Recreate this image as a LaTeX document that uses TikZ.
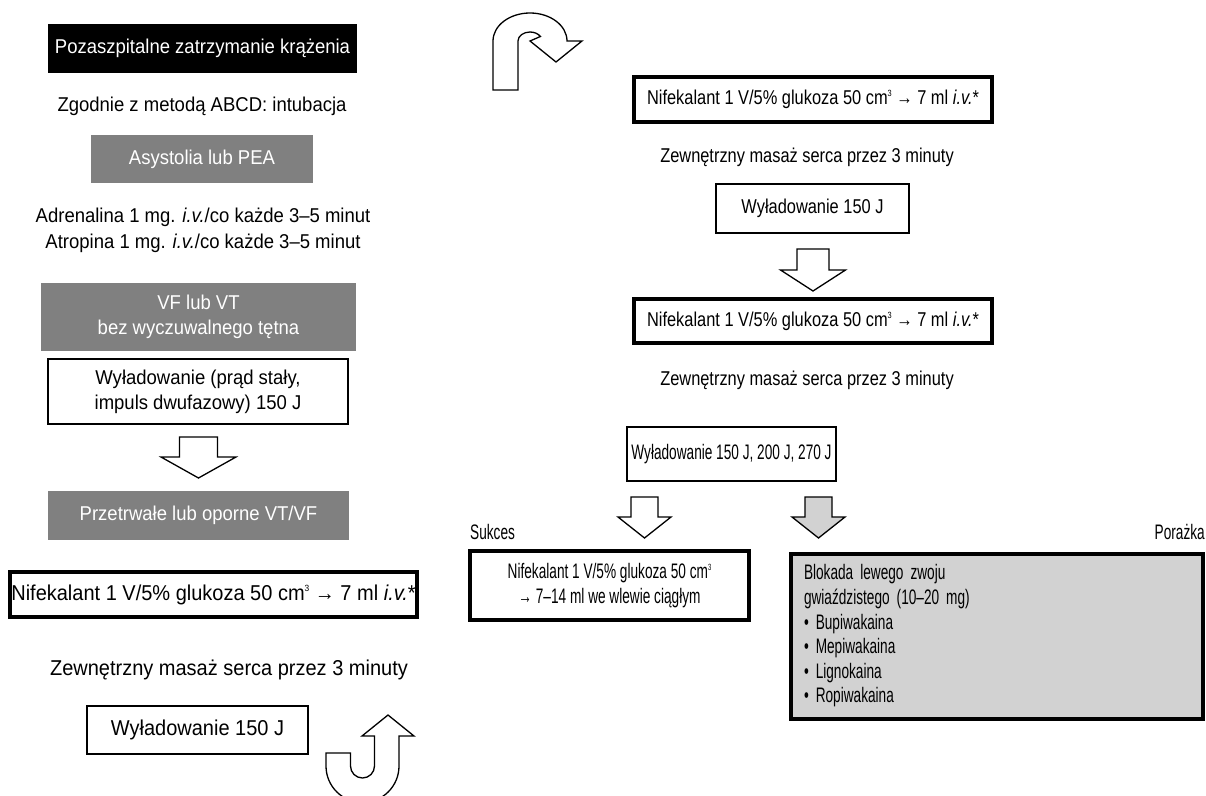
\documentclass[tikz,border=0pt]{standalone}
\usepackage{fontspec}
\setmainfont{Liberation Sans}
\newfontfamily\fL{Liberation Sans}[FakeStretch=0.925]
\newfontfamily\fLL{Liberation Sans}[FakeStretch=0.93]
\newfontfamily\fR{Liberation Sans}[FakeStretch=0.82]
\newfontfamily\fC{Liberation Sans}[FakeStretch=0.65]
\newcommand\setfL{\fL\fontsize{20}{25}\selectfont}
\newcommand\setfLL{\fLL\fontsize{21.5}{25}\selectfont}
\newcommand\setfR{\fR\fontsize{20}{25}\selectfont}
\newcommand\setfC{\fC\fontsize{21}{24.6}\selectfont}
\newcommand\cubesup{\raisebox{0.75ex}{\fontsize{9}{9}\selectfont 3}}
\definecolor{boxgray}{RGB}{128,128,128}
\definecolor{lightfill}{RGB}{210,210,210}
\tikzset{
  every node/.style={inner sep=0pt, align=center},
  fl/.style={font=\setfL},
  fl2/.style={font=\setfLL},
  fr/.style={font=\setfR},
  fc/.style={font=\setfC},
  plainbox/.style={draw, line width=1.3pt, fill=white},
  thickbox/.style={draw, line width=4pt, fill=white},
  darkbox/.style={fill=black, text=white},
  graybox/.style={fill=boxgray, text=white},
  blockarr/.style={draw, line width=1.3pt, line join=miter, fill=white},
}
% block arrow: #1 centre x, #2 top y, #3 shaft half width, #4 head half width, #5 head base y, #6 tip y, #7 fill
\newcommand\blockarrow[7]{%
  \draw[blockarr, fill=#7] (#1-#3,#2) -- (#1+#3,#2) -- (#1+#3,#5) -- (#1+#4,#5)
    -- (#1,#6) -- (#1-#4,#5) -- (#1-#3,#5) -- cycle;}
\begin{document}
\begin{tikzpicture}[x=1pt,y=-1pt]
\useasboundingbox (0,0) rectangle (1206,795);
\fill[white] (0,0) rectangle (1206,795);

% ---------- left column ----------
\node[darkbox, fl, minimum width=309, minimum height=49] (start) at (202.5,48.5) {Pozaszpitalne zatrzymanie krążenia};
\node[fl] (abcd) at (202,106) {Zgodnie z metodą ABCD: intubacja};
\node[graybox, fl, minimum width=222, minimum height=48] (asys) at (202,159) {Asystolia lub PEA};
\node[fl] (adr) at (203,217) {Adrenalina 1 mg. \textit{i.v.}/co każde 3–5 minut};
\node[fl] (atr) at (203,243) {Atropina 1 mg. \textit{i.v.}/co każde 3–5 minut};
\node[graybox, fl, minimum width=315, minimum height=68] (vf) at (198.5,317) {VF lub VT\\bez wyczuwalnego tętna};
\node[plainbox, fl, minimum width=300, minimum height=65] (shockA) at (198,391.5) {Wyładowanie (prąd stały,\\impuls dwufazowy) 150 J};
\blockarrow{198.5}{437}{19}{37.5}{457}{478}{white}
\node[graybox, fl, minimum width=301, minimum height=49] (pers) at (198.5,515.5) {Przetrwałe lub oporne VT/VF};
\node[thickbox, fl2, minimum width=407, minimum height=45] (nifA) at (213.5,594.5) {Nifekalant 1 V/5\% glukoza 50 cm\cubesup{} → 7 ml \textit{i.v.}*};
\node[fl2] (cprA) at (229,670) {Zewnętrzny masaż serca przez 3 minuty};
\node[plainbox, fl2, minimum width=221, minimum height=48] (shockB) at (197.5,730) {Wyładowanie 150 J};

% U-turn arrow (bottom)
\draw[blockarr] (326,753) -- (350.5,753) -- (350.5,766)
  arc[start angle=180, end angle=0, radius=12] -- (374.5,736) -- (362,736)
  -- (388,715) -- (414,736) -- (399,736) -- (399,766)
  arc[start angle=0, end angle=180, radius=36.5] -- cycle;

% curved arrow (top)
\draw[blockarr] (518,90) -- (518,41)
  arc[start angle=180, end angle=330, x radius=12, y radius=9] -- (530,41)
  -- (556,62) -- (582,41) -- (567,41)
  arc[start angle=0, end angle=-180, x radius=37, y radius=28] -- (493,90) -- cycle;

% ---------- right column ----------
\node[thickbox, fr, minimum width=358, minimum height=45] (nifB) at (813,99.5) {Nifekalant 1 V/5\% glukoza 50 cm\cubesup{} → 7 ml \textit{i.v.}*};
\node[fr] (cprB) at (807,157) {Zewnętrzny masaż serca przez 3 minuty};
\node[plainbox, fr, minimum width=193, minimum height=49] (shockC) at (812.5,208.5) {Wyładowanie 150 J};
\blockarrow{813}{249}{16}{32.5}{270}{291}{white}
\node[thickbox, fr, minimum width=358, minimum height=44] (nifC) at (813,321) {Nifekalant 1 V/5\% glukoza 50 cm\cubesup{} → 7 ml \textit{i.v.}*};
\node[fr] (cprC) at (807,380) {Zewnętrzny masaż serca przez 3 minuty};
\node[plainbox, fc, minimum width=209, minimum height=54] (shockD) at (731.5,454) {Wyładowanie 150 J, 200 J, 270 J};
\blockarrow{644.5}{497}{13.5}{26.5}{517}{538}{white}
\blockarrow{818.5}{497}{13.5}{26.5}{517}{538}{lightfill}
\node[fc, anchor=west] (succL) at (470,532) {Sukces};
\node[fc, anchor=east] (failL) at (1205,532) {Porażka};
\node[thickbox, fc, minimum width=279, minimum height=69] (succ) at (609.5,585.5) {Nifekalant 1 V/5\% glukoza 50 cm\cubesup\\→ 7–14 ml we wlewie ciągłym};
\node[thickbox, fc, fill=lightfill, minimum width=412, minimum height=165, text width=386, align=left] (fail) at (997,636)
  {Blokada lewego zwoju\\gwiaździstego (10–20 mg)\\• Bupiwakaina\\• Mepiwakaina\\• Lignokaina\\• Ropiwakaina};
\end{tikzpicture}
\end{document}
